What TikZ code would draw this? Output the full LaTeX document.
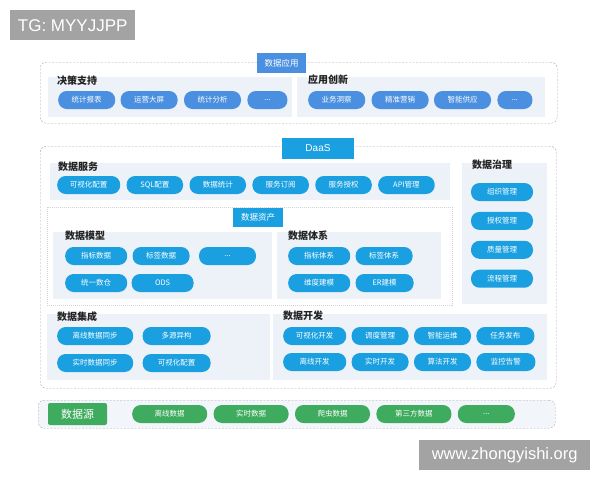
\documentclass[tikz,border=0pt]{standalone}
\usepackage{fontspec}
\setmainfont{Liberation Sans}
\newfontfamily\cjk{Noto Sans CJK SC}
\usepackage[]{xcolor}
\usetikzlibrary{shapes, positioning}
\definecolor{appblue}{HTML}{4A8FE0}
\definecolor{daasblue}{HTML}{1AA0E0}
\definecolor{srcgreen}{HTML}{3EAB5E}
\definecolor{panelgray}{HTML}{EDF1F8}
\definecolor{srcfill}{HTML}{F2F5FA}
\definecolor{headtext}{HTML}{222222}
\definecolor{wmgray}{HTML}{A3A3A3}
\tikzstyle{layer} = [rectangle, draw=gray!70, dash pattern=on 2pt off 1.5pt, rounded corners=6pt, anchor=north west, inner sep=0pt]
\tikzstyle{panel} = [rectangle, fill=panelgray, anchor=north west, inner sep=0pt]
\tikzstyle{tag} = [rectangle, text=white, inner sep=0pt, font=\cjk\fontsize{8.5}{9}\selectfont]
\tikzstyle{head} = [anchor=west, inner sep=0pt, text=headtext, font=\cjk\bfseries\fontsize{10}{11}\selectfont]
\tikzstyle{btn} = [rectangle, rounded corners=8.5pt, text=white, inner sep=0pt, minimum height=18pt, font=\cjk\fontsize{7.5}{8}\selectfont]
\tikzstyle{appbtn} = [btn, fill=appblue, minimum width=57pt]
\tikzstyle{daasbtn} = [btn, fill=daasblue, minimum width=57pt]
\tikzstyle{srcbtn} = [btn, fill=srcgreen, minimum width=75pt]
\tikzstyle{wm} = [rectangle, fill=wmgray, text=white, anchor=north west, inner sep=0pt]

\begin{document}
\begin{tikzpicture}[x=1pt, y=-1pt]
		\useasboundingbox (0,0) rectangle (600,480);
		
		\node [wm, minimum width=125pt, minimum height=30pt, font=\fontsize{17}{18}\selectfont] (tg) at (10,10) {TG: MYYJJPP};
		
		\node [layer, minimum width=517pt, minimum height=61pt] (app) at (40,62) {};
		\node [panel, minimum width=244pt, minimum height=40pt] (decide) at (48,77) {};
		\node [panel, minimum width=248pt, minimum height=40pt] (innov) at (297,77) {};
		\node [tag, fill=appblue, minimum width=49pt, minimum height=20pt] (applabel) at (281.5,63) {数据应用};
		
		\node [head] (decidehead) at (57,81) {决策支持};
		\node [appbtn, anchor=west] (report) at (58,100) {统计报表};
		\node [appbtn, right=5pt of report] (screen) {运营大屏};
		\node [appbtn, right=6pt of screen] (analysis) {统计分析};
		\node [appbtn, right=6pt of analysis, minimum width=40pt] (decidemore) {...};
		
		\node [head] (innovhead) at (308,80) {应用创新};
		\node [appbtn, anchor=west] (insight) at (308,100) {业务洞察};
		\node [appbtn, right=6pt of insight] (marketing) {精准营销};
		\node [appbtn, right=5pt of marketing] (supply) {智能供应};
		\node [appbtn, right=6pt of supply, minimum width=35pt] (innovmore) {...};
		
		\node [layer, minimum width=516pt, minimum height=242pt] (daas) at (40,146) {};
		\node [panel, minimum width=400pt, minimum height=37pt] (service) at (50,163) {};
		\node [panel, minimum width=85pt, minimum height=141pt] (govern) at (462,163) {};
		\node [rectangle, draw=gray!35, dash pattern=on 1pt off 1pt, fill=white, anchor=north west, inner sep=0pt, minimum width=405pt, minimum height=98pt] (asset) at (47,207) {};
		\node [panel, minimum width=219pt, minimum height=67pt] (model) at (53,232) {};
		\node [panel, minimum width=164pt, minimum height=67pt] (system) at (277,232) {};
		\node [panel, minimum width=223pt, minimum height=66pt] (integ) at (47,314) {};
		\node [panel, minimum width=274pt, minimum height=66pt] (dev) at (273,314) {};
		\node [tag, fill=daasblue, minimum width=72pt, minimum height=21pt, font=\fontsize{10}{11}\selectfont] (daaslabel) at (318,148) {DaaS};
		\node [tag, fill=daasblue, minimum width=50pt, minimum height=19pt] (assetlabel) at (258,217.5) {数据资产};
		
		\node [head] (servicehead) at (58,167) {数据服务};
		\node [daasbtn, anchor=west, minimum width=63pt] (visconf) at (57,185) {可视化配置};
		\node [daasbtn, right=6pt of visconf, minimum width=56.5pt] (sqlconf) {SQL配置};
		\node [daasbtn, right=6pt of sqlconf, minimum width=56.5pt] (stats) {数据统计};
		\node [daasbtn, right=6pt of stats, minimum width=56.5pt] (subscribe) {服务订阅};
		\node [daasbtn, right=6pt of subscribe, minimum width=56.5pt] (authorize) {服务授权};
		\node [daasbtn, right=6pt of authorize, minimum width=56.5pt] (api) {API管理};
		
		\node [head] (modelhead) at (65,236) {数据模型};
		\node [daasbtn, anchor=west, minimum width=62pt] (metricdata) at (65,256) {指标数据};
		\node [daasbtn, right=5pt of metricdata] (labeldata) {标签数据};
		\node [daasbtn, right=9pt of labeldata] (modelmore) {...};
		\node [daasbtn, anchor=west, minimum width=62pt] (warehouse) at (65,283) {统一数仓};
		\node [daasbtn, right=4pt of warehouse, minimum width=62pt] (ods) {ODS};
		
		\node [head] (systemhead) at (288,236) {数据体系};
		\node [daasbtn, anchor=west, minimum width=62pt] (metricsys) at (288,256) {指标体系};
		\node [daasbtn, right=5pt of metricsys] (labelsys) {标签体系};
		\node [daasbtn, anchor=west, minimum width=62pt] (dimension) at (288,283) {维度建模};
		\node [daasbtn, right=5pt of dimension, minimum width=58pt] (ermodel) {ER建模};
		
		\node [head] (governhead) at (472,165) {数据治理};
		\node [daasbtn, minimum width=62pt] (org) at (502,192) {组织管理};
		\node [daasbtn, below=10.5pt of org, minimum width=62pt] (grant) {授权管理};
		\node [daasbtn, below=10.5pt of grant, minimum width=62pt] (quality) {质量管理};
		\node [daasbtn, below=10.5pt of quality, minimum width=62pt] (flow) {流程管理};
		
		\node [head] (integhead) at (57,317) {数据集成};
		\node [daasbtn, anchor=west, minimum width=76pt] (offsync) at (57,336) {离线数据同步};
		\node [daasbtn, right=9pt of offsync, minimum width=68pt] (multisrc) {多源异构};
		\node [daasbtn, anchor=west, minimum width=76pt] (rtsync) at (57,363) {实时数据同步};
		\node [daasbtn, right=9pt of rtsync, minimum width=68pt] (visconf2) {可视化配置};
		
		\node [head] (devhead) at (283,316) {数据开发};
		\node [daasbtn, anchor=west, minimum width=63pt] (visdev) at (283,336) {可视化开发};
		\node [daasbtn, right=5pt of visdev] (schedule) {调度管理};
		\node [daasbtn, right=5pt of schedule] (ops) {智能运维};
		\node [daasbtn, right=5pt of ops, minimum width=58pt] (publish) {任务发布};
		\node [daasbtn, anchor=west, minimum width=63pt] (offdev) at (283,362) {离线开发};
		\node [daasbtn, right=5pt of offdev] (rtdev) {实时开发};
		\node [daasbtn, right=5pt of rtdev] (algodev) {算法开发};
		\node [daasbtn, right=5pt of algodev, minimum width=59pt] (alarm) {监控告警};
		
		\node [layer, fill=srcfill, minimum width=517pt, minimum height=28pt] (source) at (38,400) {};
		\node [tag, fill=srcgreen, rounded corners=2pt, minimum width=59pt, minimum height=22pt, font=\cjk\fontsize{11}{12}\selectfont] (sourcelabel) at (77.5,414) {数据源};
		\node [srcbtn, anchor=west] (offdata) at (132,414) {离线数据};
		\node [srcbtn, right=6pt of offdata] (rtdata) {实时数据};
		\node [srcbtn, right=6pt of rtdata] (crawl) {爬虫数据};
		\node [srcbtn, right=6pt of crawl] (third) {第三方数据};
		\node [srcbtn, right=6pt of third, minimum width=57pt] (sourcemore) {...};
		
		\node [wm, minimum width=171pt, minimum height=30pt, font=\fontsize{16.5}{18}\selectfont] (site) at (419,440) {www.zhongyishi.org};
		
	\end{tikzpicture}
\end{document}
